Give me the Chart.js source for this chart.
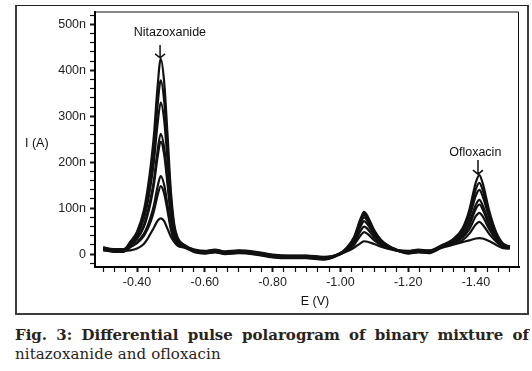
<!DOCTYPE html>
<html>
<head>
<meta charset="utf-8">
<script src="https://cdn.jsdelivr.net/npm/chart.js@4.4.1/dist/chart.umd.min.js"></script>
<style>
html, body { margin: 0; padding: 0; background: #fff; }
body { width: 532px; height: 371px; position: relative; overflow: hidden; }
#frame { position: absolute; left: 15px; top: 5px; width: 510px; height: 307px;
  border: 2px solid #3c3c3c; border-top: 1px solid #222; }
#wrap { position: absolute; left: 0; top: 0; width: 532px; height: 320px; }
.cap { position: absolute; left: 15px; width: 514px; font-family: "DejaVu Serif", serif;
  font-size: 15px; line-height: 18px; color: #2a231c; white-space: nowrap; }
#cap1 { top: 326px; font-weight: bold; text-align: justify; text-align-last: justify; }
#cap2 { top: 345px; letter-spacing: 0.1px; }
</style>
</head>
<body>
<div id="frame"></div>
<div id="wrap"><canvas id="myChart" width="532" height="320"></canvas></div>
<div class="cap" id="cap1">Fig. 3: Differential pulse polarogram of binary mixture of</div>
<div class="cap" id="cap2">nitazoxanide and ofloxacin</div>
<script>
// potential E (V) and current I (nA)
var potentials = [-0.30,-0.33,-0.36,-0.38,-0.40,-0.42,-0.43,-0.44,-0.45,-0.46,-0.47,-0.48,-0.49,-0.50,-0.51,-0.52,-0.54,
  -0.57,-0.60,-0.63,-0.66,-0.70,-0.75,-0.80,-0.85,-0.90,-0.95,
  -1.00,-1.02,-1.04,-1.06,-1.07,-1.08,-1.10,-1.12,-1.14,-1.17,
  -1.20,-1.23,-1.26,
  -1.30,-1.33,-1.36,-1.38,-1.40,-1.41,-1.42,-1.44,-1.46,-1.48,-1.50];

var curve1 = [14,10,10,27,49,95,136,190,260,359,425,375,260,136,64,36,20, 9,6,9,5,7,4,-2,-4,-4,-7, 2,15,37,78,92,83,52,31,19,9, 6,9,7, 20,31,56,95,157,172,154,92,47,23,17];
var curve2 = [12,8,8,25,45,85,122,169,232,319,378,334,232,122,58,33,19, 7,4,7,3,5,2,-4,-6,-6,-9, 2,14,35,75,88,79,50,30,19,8, 4,7,5, 19,30,52,87,142,155,139,84,44,21,16];
var curve3 = [11,7,7,23,41,76,107,149,203,279,330,292,203,107,52,31,18, 6,3,6,2,4,1,-5,-7,-7,-10, 2,14,34,72,85,77,48,29,18,8, 3,6,4, 18,28,48,79,128,140,126,77,41,20,16];
var curve4 = [15,11,11,20,35,62,87,120,162,222,262,232,162,87,44,28,17, 10,7,10,6,8,5,-1,-3,-3,-6, 2,13,32,68,80,72,46,28,18,8, 7,10,8, 17,26,42,68,108,118,106,66,37,19,15];
var curve5 = [10,6,6,19,33,59,82,112,152,208,245,217,152,82,42,27,17, 5,2,5,1,3,0,-6,-8,-8,-11, 1,12,29,61,72,65,42,26,17,8, 2,5,3, 16,25,40,63,99,108,97,61,35,18,15];
var curve6 = [13,9,9,16,26,44,59,80,107,145,170,151,107,59,33,23,15, 8,5,8,4,6,3,-3,-5,-5,-8, 1,10,25,51,60,55,36,23,15,7, 5,8,6, 16,23,36,54,83,90,82,53,31,17,14];
var curve7 = [9,5,5,15,24,39,53,70,94,126,148,132,94,53,30,22,15, 4,1,4,0,2,-1,-7,-9,-9,-12, 0,8,20,41,48,44,30,20,14,7, 1,4,2, 15,21,30,44,65,70,64,43,27,16,14];
var curve8 = [8,7,7,8,12,22,32,45,58,72,78,72,55,38,26,18,14, 6,3,6,2,4,1,-5,-7,-7,-10, 0,6,14,24,28,27,22,16,12,7, 3,6,4, 14,20,26,30,34,35,34,28,20,13,12];

var xMajor = [-0.40,-0.60,-0.80,-1.00,-1.20,-1.40];
var xTickLabels = ['-0.40','-0.60','-0.80','-1.00','-1.20','-1.40'];
var yMajor = [0,100,200,300,400,500];
var yTickLabels = ['0','100n','200n','300n','400n','500n'];

var peakNames = ['Nitazoxanide','Ofloxacin'];
var peakE = [-0.468,-1.406];       // arrow position
var arrowTop = [455,205];          // nA
var arrowTip = [427,174];
var labelE = [-0.497,-1.398];
var labelI = [482,222];

var allCurves = [curve1,curve2,curve3,curve4,curve5,curve6,curve7,curve8];

var tickFont = {family: '"Liberation Sans", Arial, sans-serif', size: 12.5};

function nearIdx(list, v) {
  for (var i = 0; i < list.length; i++) if (Math.abs(list[i] - v) < 1e-6) return i;
  return -1;
}

var annotate = {
  id: 'annotate',
  afterDraw: function(chart) {
    var ctx = chart.ctx, a = chart.chartArea, x = chart.scales.x, y = chart.scales.y;
    ctx.save();
    // thin top / right frame of the plot
    ctx.strokeStyle = '#111';
    ctx.lineWidth = 1;
    ctx.beginPath();
    ctx.moveTo(a.left, a.top + 0.5);
    ctx.lineTo(a.right - 0.5, a.top + 0.5);
    ctx.lineTo(a.right - 0.5, a.bottom);
    ctx.stroke();

    ctx.fillStyle = '#111';
    ctx.font = '12.5px "Liberation Sans", Arial, sans-serif';
    ctx.textBaseline = 'middle';
    ctx.textAlign = 'center';
    for (var i = 0; i < peakNames.length; i++) {
      ctx.fillText(peakNames[i], x.getPixelForValue(labelE[i]), y.getPixelForValue(labelI[i]));
      var px = x.getPixelForValue(peakE[i]);
      var y0 = y.getPixelForValue(arrowTop[i]), y1 = y.getPixelForValue(arrowTip[i]);
      ctx.lineWidth = 1.5;
      ctx.beginPath();
      ctx.moveTo(px, y0); ctx.lineTo(px, y1);
      ctx.moveTo(px - 5, y1 - 4); ctx.lineTo(px, y1); ctx.lineTo(px + 5, y1 - 4);
      ctx.stroke();
    }
    ctx.textAlign = 'left';
    ctx.fillText('I (A)', a.left - 70, y.getPixelForValue(241));
    ctx.textAlign = 'center';
    ctx.fillText('E (V)', x.getPixelForValue(-0.925), a.bottom + 35);
    ctx.restore();
  }
};

var ctx = document.getElementById('myChart').getContext('2d');

var polarogram = new Chart(ctx, {
  type: 'line',
  data: {
    datasets: allCurves.map(function(c) {
      return {
        data: potentials.map(function(e, i) { return {x: e, y: c[i]}; }),
        borderColor: '#111',
        borderWidth: 2.2,
        pointRadius: 0,
        cubicInterpolationMode: 'monotone',
        fill: false
      };
    })
  },
  options: {
    responsive: false,
    animation: false,
    layout: {padding: {left: 0, top: 11, right: 13, bottom: 10}},
    plugins: {legend: {display: false}, tooltip: {enabled: false}},
    scales: {
      x: {
        type: 'linear',
        reverse: true,
        min: -1.527,
        max: -0.276,
        afterFit: function(s) { s.height = 43; },
        afterBuildTicks: function(s) {
          var t = [];
          for (var k = -3; k <= 33; k++) t.push({value: -0.40 - k * 0.2 / 6});
          s.ticks = t;
        },
        ticks: {
          autoSkip: false, maxRotation: 0, padding: 3, color: '#222', font: tickFont,
          callback: function(v) {
            var j = nearIdx(xMajor, v);
            return j < 0 ? '' : xTickLabels[j];
          }
        },
        grid: {
          drawOnChartArea: false, drawTicks: true, tickLength: 5, tickColor: '#111',
          tickWidth: function(c) { return nearIdx(xMajor, c.tick ? c.tick.value : 1) < 0 ? 1.2 : 2; }
        },
        border: {display: true, color: '#000', width: 2}
      },
      y: {
        min: -28,
        max: 528,
        afterFit: function(s) { s.width = 95; },
        afterBuildTicks: function(s) {
          var t = [];
          for (var v = -20; v <= 520; v += 20) t.push({value: v});
          s.ticks = t;
        },
        ticks: {
          autoSkip: false, padding: 4, color: '#222', font: tickFont,
          callback: function(v) {
            var j = nearIdx(yMajor, v);
            return j < 0 ? '' : yTickLabels[j];
          }
        },
        grid: {
          drawOnChartArea: false, drawTicks: true, tickLength: 5, tickColor: '#111',
          tickWidth: function(c) { return nearIdx(yMajor, c.tick ? c.tick.value : 1) < 0 ? 1.2 : 2; }
        },
        border: {display: true, color: '#000', width: 2}
      }
    }
  },
  plugins: [annotate]
});
</script>
</body>
</html>
